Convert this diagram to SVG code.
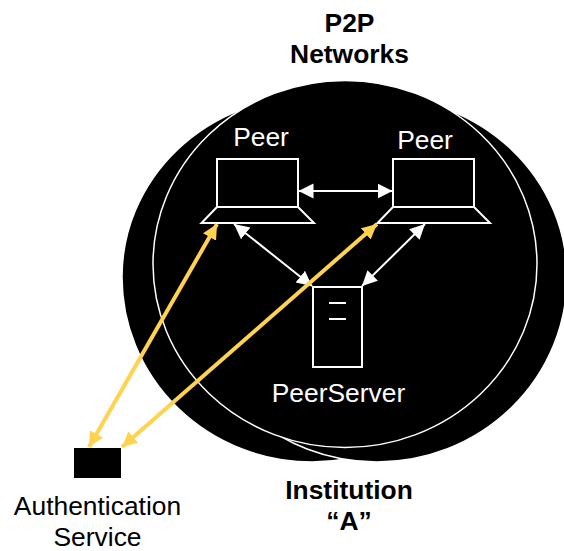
<svg xmlns="http://www.w3.org/2000/svg" width="564" height="551" viewBox="0 0 564 551">
<style>
.blob{fill:#000;stroke:#fff;stroke-width:1.5}
.o{fill:none;stroke:#fff;stroke-width:2;stroke-linejoin:miter}
.w{fill:none;stroke:#fff;stroke-width:2}
.y{fill:none;stroke:#FFD24F;stroke-width:4}
text{font-family:"Liberation Sans",Arial,sans-serif;font-size:26.4px;text-anchor:middle}
.l{fill:#fff}
.b{font-weight:bold;fill:#000}
.k{fill:#000}
</style>
<defs>
<marker id="aw" markerUnits="userSpaceOnUse" markerWidth="16" markerHeight="16" refX="15" refY="7.5" orient="auto-start-reverse"><path d="M0 0L15 7.5L0 15Z" fill="#fff"/></marker>
<marker id="ay" markerUnits="userSpaceOnUse" markerWidth="16" markerHeight="16" refX="15" refY="7.5" orient="auto-start-reverse"><path d="M0 0L15 7.5L0 15Z" fill="#FFD24F"/></marker>
</defs>
<g id="institution-left"><path class="blob" d="M122 277A190 180.500 0 0 1 502 277A190 185 0 0 1 122 277Z"/></g>
<g id="institution-right"><path class="blob" d="M187 277A190 180.500 0 0 1 567 277A190 185 0 0 1 187 277Z"/></g>
<g id="p2p-network"><ellipse class="blob" cx="345" cy="264" rx="192" ry="183.500"/></g>
<g id="peer-left">
<rect class="o" x="217" y="159" width="81" height="48"/>
<path class="o" d="M217 207L201.500 223H314L298 207"/>
<text class="l" x="261" y="146">Peer</text>
</g>
<g id="peer-right">
<rect class="o" x="393" y="159" width="81" height="48"/>
<path class="o" d="M393 207L377.500 223H490L474 207"/>
<text class="l" x="425" y="149">Peer</text>
</g>
<g id="peer-server">
<rect class="o" x="313" y="287" width="49" height="80"/>
<path class="o" d="M329 303H346M329 319H346"/>
<text class="l" x="338.500" y="402">PeerServer</text>
</g>
<g id="auth-service">
<rect x="74" y="448" width="47" height="30" fill="#000"/>
<text class="k" x="97.500" y="515">Authentication</text>
<text class="k" x="97.500" y="545.500">Service</text>
</g>
<g id="labels">
<text class="b" x="349.500" y="32">P2P</text>
<text class="b" x="349.500" y="63">Networks</text>
<text class="b" x="349" y="499">Institution</text>
<text class="b" x="349" y="530">“A”</text>
</g>
<g id="connectors">
<path class="w" d="M298.500 191H392.500" marker-start="url(#aw)" marker-end="url(#aw)"/>
<path class="w" d="M234 224L312 286" marker-start="url(#aw)" marker-end="url(#aw)"/>
<path class="w" d="M425 224L362 286" marker-start="url(#aw)" marker-end="url(#aw)"/>
<path class="y" d="M217 224L89 447" marker-start="url(#ay)" marker-end="url(#ay)"/>
<path class="y" d="M377 224L122 447" marker-start="url(#ay)" marker-end="url(#ay)"/>
</g>
</svg>
